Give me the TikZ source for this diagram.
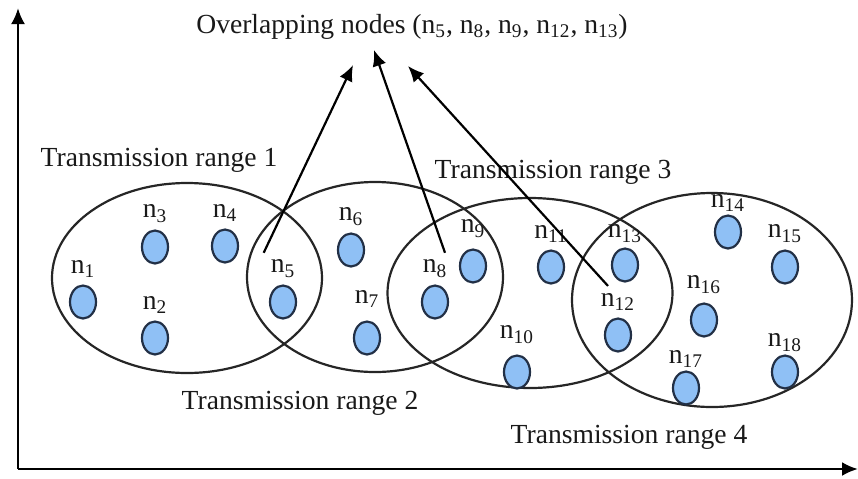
\documentclass[tikz,border=0pt]{standalone}
\usepackage{fontspec}
\setmainfont{Liberation Serif}
\usepackage{tikz}
\usetikzlibrary{shapes.geometric}
\usetikzlibrary{arrows.meta}
\definecolor{dotfill}{RGB}{143,192,245}
\definecolor{dotline}{RGB}{34,48,70}

\begin{document}
\begin{tikzpicture}[x=0.5pt, y=-0.5pt,
  every node/.style={font=\fontsize{13.8}{16}\selectfont, text=black!90},
  txrange/.style={draw=black!85, line width=1.1pt, ellipse, inner sep=0pt},
  sensor/.style={draw=dotline, fill=dotfill, line width=1.1pt, ellipse, minimum width=13pt, minimum height=16.5pt, inner sep=0pt},
  pointer/.style={-{Latex[length=8pt,width=7pt]}, line width=1.1pt}]
\useasboundingbox (0,0) rectangle (858,478);

% axes
\coordinate (o) at (18,469);
\coordinate (ytop) at (18,8);
\coordinate (xend) at (858,469);
\draw[pointer, line width=1.3pt] (o) -- (ytop);
\draw[pointer, line width=1.3pt] (o) -- (xend);

% transmission ranges
\node[txrange, minimum width=135pt, minimum height=95pt] (r1) at (187,278) {};
\node[txrange, minimum width=128pt, minimum height=95pt] (r2) at (375,277) {};
\node[txrange, minimum width=142.5pt, minimum height=95pt] (r3) at (530,293) {};
\node[txrange, minimum width=140pt, minimum height=107pt] (r4) at (712,300) {};

% sensor nodes (number/x/y/label distance)
\foreach \i/\x/\y/\d in {1/83/302/0, 2/155/338/0, 3/155/247/0, 4/225/246/0, 5/283/302/0, 6/351/250/0,
  7/367/338/3, 8/435/302/0, 9/473/266/2, 10/517/372/2, 11/551/267/0, 12/618/335/0, 13/625/265/-1,
  14/728/232/-2, 15/785/267/0, 16/704/320/1, 17/686/388/-2, 18/785/372/-2}
  \node[sensor, label={[name=l\i, label distance=\d pt]above:n\textsubscript{\i}}] (n\i) at (\x,\y) {};

% range labels
\node (rl1) at (159,160) {Transmission range 1};
\node (rl2) at (300,403) {Transmission range 2};
\node (rl3) at (553,172) {Transmission range 3};
\node (rl4) at (629,437) {Transmission range 4};

% overlapping nodes
\node (title) at (412,27) {Overlapping nodes (n\textsubscript{5}, n\textsubscript{8}, n\textsubscript{9}, n\textsubscript{12}, n\textsubscript{13})};
\coordinate (t1) at (353,65);
\coordinate (t2) at (374,50);
\coordinate (t3) at (408,66);
\draw[pointer] (l5.north west) -- (t1);
\draw[pointer] ([xshift=5pt]l8.north) -- (t2);
\draw[pointer] ([xshift=-5pt]l12.north) -- (t3);

\end{tikzpicture}
\end{document}
